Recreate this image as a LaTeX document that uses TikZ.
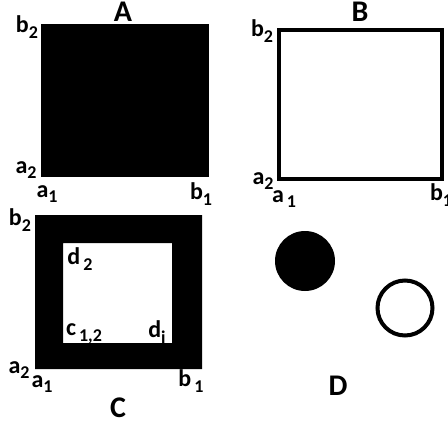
\documentclass[tikz,border=0pt]{standalone}
\usepackage{fontspec}
\setmainfont{Carlito}
\newcommand{\lbsub}[2]{#1\raisebox{-0.5ex}{\fontsize{18}{18}\selectfont #2}}
\tikzset{
  lbl/.style={inner sep=0pt, font=\fontsize{24}{24}\selectfont\bfseries},
  ttl/.style={inner sep=0pt, font=\fontsize{30}{30}\selectfont\bfseries},
  thick4/.style={line width=4pt}
}
\begin{document}
\begin{tikzpicture}[x=1pt,y=-1pt]
\useasboundingbox (0,0) rectangle (448,424);
% A
\fill[black] (41,24) rectangle (209,177);
\node[ttl] (tA) at (123,12) {A};
\node[lbl] (Ab2) at (27,27) {\lbsub{b}{2}};
\node[lbl] (Aa2) at (26,170) {\lbsub{a}{2}};
\node[lbl] (Aa1) at (47,194) {\lbsub{a}{1}};
\node[lbl] (Ab1) at (201,194) {\lbsub{b}{1}};
% B
\draw[thick4] (279,30) rectangle (442,179);
\node[ttl] (tB) at (360,12) {B};
\node[lbl] (Bb2) at (262,31) {\lbsub{b}{2}};
\node[lbl] (Ba2) at (263,181) {\lbsub{a}{2}};
\node[lbl] (Ba1) at (284,199) {\lbsub{a}{\,1}};
\node[lbl] (Bb1) at (441,195) {\lbsub{b}{1}};
% C
\fill[black,even odd rule] (35,215) rectangle (202,369) (63,243) rectangle (172,343);
\node[lbl] (Cb2) at (20,220) {\lbsub{b}{2}};
\node[lbl] (Cd2) at (80,259) {\lbsub{d}{\,2}};
\node[lbl] (Cc12) at (84,334) {\lbsub{c}{\,1,2}};
\node[lbl] (Cdi) at (157,332) {\lbsub{d}{i}};
\node[lbl] (Ca2) at (19,370) {\lbsub{a}{2}};
\node[lbl] (Ca1) at (42,384) {\lbsub{a}{1}};
\node[lbl] (Cb1) at (191,381) {\lbsub{b}{\,1}};
\node[ttl] (tC) at (118,408) {C};
% D
\fill[black] (305,261) circle (30);
\draw[thick4] (405,308) circle (27.5);
\node[ttl] (tD) at (338,386) {D};
\end{tikzpicture}
\end{document}
